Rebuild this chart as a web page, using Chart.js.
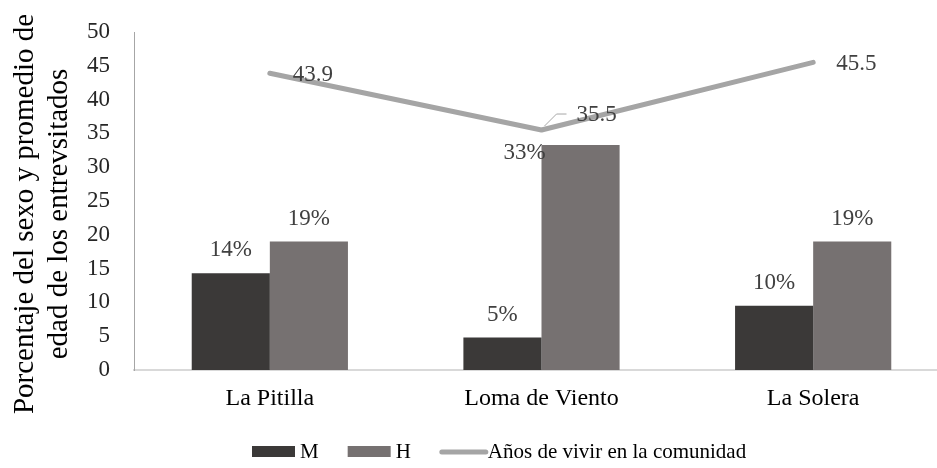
<!DOCTYPE html>
<html>
<head>
<meta charset="utf-8">
<script src="https://cdn.jsdelivr.net/npm/chart.js@4.4.0/dist/chart.umd.min.js"></script>
<style>
  html, body { margin: 0; padding: 0; background: #fff; overflow: hidden; }
</style>
</head>
<body>
<canvas id="chart" width="949" height="468"></canvas>
<script>
// Datos del gráfico
const comunidades = ['La Pitilla', 'Loma de Viento', 'La Solera'];
const mujeres = [14.3, 4.8, 9.5];
const hombres = [19.0, 33.3, 19.0];
const anosComunidad = [43.9, 35.5, 45.5];
const nombresSeries = ['M', 'H', 'Años de vivir en la comunidad'];
const tituloEjeY = ['Porcentaje del sexo y promedio de', 'edad de los entrevsitados'];

const FONT = '"Liberation Serif", "Times New Roman", serif';

// Etiquetas de datos sobre barras y línea
const etiquetas = {
    id: 'etiquetas',
    afterDatasetsDraw(chart) {
        const ctx = chart.ctx;
        ctx.save();
        ctx.font = '23px ' + FONT;
        ctx.fillStyle = '#404040';
        ctx.textBaseline = 'middle';
        ctx.textAlign = 'center';
        [0, 1].forEach(di => {
            chart.getDatasetMeta(di).data.forEach((bar, i) => {
                const v = chart.data.datasets[di].data[i];
                let x = bar.x, y = bar.y - 23;
                // en el original esta etiqueta fue movida a mano
                if (di === 1 && i === 1) { x -= 56; y = bar.y + 8; }
                ctx.fillText(Math.round(v) + '%', x, y);
            });
        });
        ctx.textAlign = 'left';
        chart.getDatasetMeta(2).data.forEach((pt, i) => {
            const v = chart.data.datasets[2].data[i];
            if (i === 1) {
                ctx.strokeStyle = '#a6a6a6';
                ctx.lineWidth = 1;
                ctx.beginPath();
                ctx.moveTo(pt.x + 3, pt.y - 4);
                ctx.lineTo(pt.x + 15, pt.y - 16);
                ctx.lineTo(pt.x + 25, pt.y - 16);
                ctx.stroke();
                ctx.fillText(v.toFixed(1), pt.x + 35, pt.y - 15);
            } else {
                ctx.fillText(v.toFixed(1), pt.x + 23, pt.y + 2);
            }
        });
        ctx.restore();
    }
};

// Título del eje Y en dos líneas
const tituloY = {
    id: 'tituloY',
    afterDraw(chart) {
        const ctx = chart.ctx;
        const area = chart.chartArea;
        ctx.save();
        ctx.font = '29px ' + FONT;
        ctx.fillStyle = '#000';
        ctx.textAlign = 'center';
        ctx.textBaseline = 'alphabetic';
        ctx.translate(0, (area.top + area.bottom) / 2 + 13);
        ctx.rotate(-Math.PI / 2);
        ctx.fillText(tituloEjeY[0], 0, 33);
        ctx.fillText(tituloEjeY[1], 0, 67);
        ctx.restore();
    }
};

// Leyenda abajo
const leyenda = {
    id: 'leyenda',
    afterDraw(chart) {
        const ctx = chart.ctx;
        ctx.save();
        ctx.font = '21px ' + FONT;
        ctx.textBaseline = 'middle';
        ctx.textAlign = 'left';
        let x = 252;
        const y = 452;
        chart.data.datasets.forEach(ds => {
            if (ds.type === 'line') {
                ctx.strokeStyle = ds.borderColor;
                ctx.lineWidth = 5;
                ctx.lineCap = 'round';
                ctx.beginPath();
                ctx.moveTo(x + 2, y);
                ctx.lineTo(x + 46, y);
                ctx.stroke();
            } else {
                ctx.fillStyle = ds.backgroundColor;
                ctx.fillRect(x, y - 6, 43, 11);
            }
            ctx.fillStyle = '#000';
            ctx.fillText(ds.label, x + 48, y);
            x += 48 + ctx.measureText(ds.label).width + 29;
        });
        ctx.restore();
    }
};

new Chart(document.getElementById('chart').getContext('2d'), {
    type: 'bar',
    data: {
        labels: comunidades,
        datasets: [
            {
                label: nombresSeries[0],
                data: mujeres,
                backgroundColor: '#3b3938',
                categoryPercentage: 0.575,
                barPercentage: 1,
                order: 1
            },
            {
                label: nombresSeries[1],
                data: hombres,
                backgroundColor: '#767171',
                categoryPercentage: 0.575,
                barPercentage: 1,
                order: 1
            },
            {
                type: 'line',
                label: nombresSeries[2],
                data: anosComunidad,
                borderColor: '#a5a5a5',
                backgroundColor: '#a5a5a5',
                borderWidth: 5,
                borderCapStyle: 'round',
                borderJoinStyle: 'round',
                pointRadius: 0,
                tension: 0,
                order: 0
            }
        ]
    },
    options: {
        responsive: false,
        animation: false,
        layout: { padding: { top: 32, right: 0, bottom: 0, left: 0 } },
        plugins: {
            legend: { display: false },
            tooltip: { enabled: false }
        },
        scales: {
            x: {
                grid: { display: false, drawTicks: false },
                border: { display: true, color: '#d9d9d9', width: 2 },
                ticks: {
                    font: { family: FONT, size: 24 },
                    color: '#000',
                    padding: 14
                },
                afterFit(scale) { scale.height = 98; }
            },
            y: {
                min: 0,
                max: 50,
                grid: { display: false, drawTicks: false },
                border: { display: true, color: '#a6a6a6', width: 1 },
                ticks: {
                    stepSize: 5,
                    font: { family: FONT, size: 23 },
                    color: '#262626',
                    padding: 24
                },
                afterFit(scale) {
                    scale.width = 134;
                    scale.paddingTop = 0;
                    scale.paddingBottom = 0;
                }
            }
        }
    },
    plugins: [etiquetas, tituloY, leyenda]
});
</script>
</body>
</html>
